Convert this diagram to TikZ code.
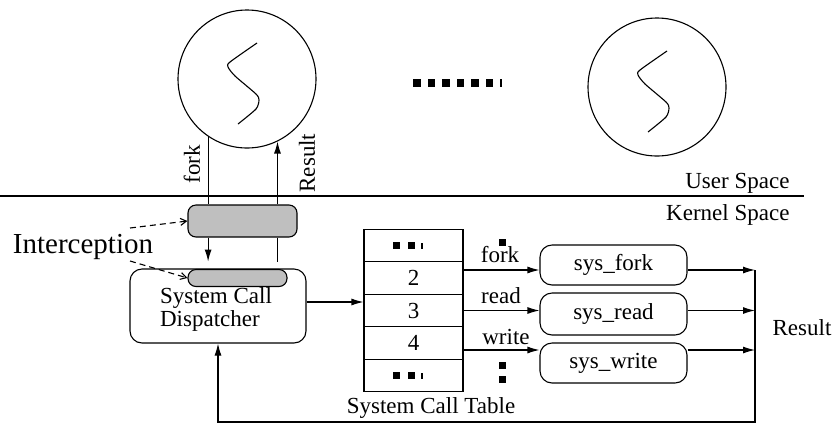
\documentclass[tikz,border=0pt]{standalone}
\usepackage{fontspec}
\setmainfont{Liberation Serif}
\usetikzlibrary{arrows.meta}
\tikzset{
    proc-circle/.style = {draw, circle, minimum size=69pt, inner sep=0pt},
    gray-box/.style = {draw, fill=black!25, rounded corners=4pt, inner sep=0pt},
    call-box/.style = {draw, fill=white, rounded corners=6pt, inner sep=0pt, font=\fontsize{11.5}{11.5}\selectfont},
    table-cell/.style = {draw, minimum width=49.5pt, minimum height=16.3pt, inner sep=0pt, font=\fontsize{11.5}{13.5}\selectfont},
    plain-label/.style = {inner sep=1pt, font=\fontsize{11.5}{13.5}\selectfont},
    arr/.style = {-{Latex[length=6pt,width=3.5pt]}},
    dash-arr/.style = {dashed, dash pattern=on 3pt off 2pt, -{Straight Barb[length=3pt,width=3.5pt]}},
    squiggle/.pic = {\draw plot[smooth, tension=0.4] coordinates {(10,-36) (-17,-17) (-19,-12) (-12,-3) (9,15) (12,21) (9,30) (-9,45)};},
    table-dots/.pic = {
        \fill (-20.5,-3.5) rectangle ++(7,7);
        \fill (-5.5,-3.5) rectangle ++(7,7);
        \fill (7.5,-3) rectangle ++(1.5,6);
    },
}

\begin{document}
\begin{tikzpicture}[x=0.5pt, y=-0.5pt, line width=0.55pt]
\useasboundingbox (0,0) rectangle (839,424);

% user processes
\node[proc-circle] (proc1) at (247,79) {};
\node[proc-circle] (proc2) at (657,87) {};
\pic at (proc1) {squiggle};
\pic at (proc2) {squiggle};
\foreach \k in {0,...,5}
    \fill ({413+14.5*\k},79) rectangle ++(7.5,7.5);
\fill (500,79) rectangle ++(1.5,7.5);

% boundary
\draw (0,196) -- (804,196);
\node[plain-label, anchor=east] (userlbl) at (792,183) {User Space};
\node[plain-label, anchor=east] (kernellbl) at (792,215) {Kernel Space};

% interception
\node[gray-box, minimum width=54.5pt, minimum height=16pt] (gray1) at (242.5,221) {};
\node[call-box, minimum width=88pt, minimum height=37pt, align=left] (dispatcher) at (218,306) {};
\node[plain-label, align=left, font=\fontsize{11.5}{11.5}\selectfont] (dispatchlbl) at (216,309) {System Call\\Dispatcher};
\node[gray-box, minimum width=49.5pt, minimum height=8.5pt] (gray2) at (237.5,278) {};
\node[inner sep=1pt, font=\fontsize{14.5}{16}\selectfont] (intercept) at (83,247) {Interception};
\coordinate (icpt-a) at (130,228);
\coordinate (icpt-b) at (130,261);
\draw[dash-arr] (icpt-a) -- (gray1.west);
\draw[dash-arr] (icpt-b) -- (gray2.west);

\draw (proc1.236) -- (proc1.236 |- gray1.north);
\draw[arr] (proc1.236 |- gray1.south) -- ++(0,24);
\draw[arr] (proc1.296 |- gray1.north) -- (proc1.296);
\draw (proc1.296 |- gray1.south) -- ++(0,24);
\node[plain-label, rotate=90] (forklbl) at (192,164) {fork};
\node[plain-label, rotate=90] (resultlbl) at (307,163) {Result};

% system call table
\foreach \i/\t in {1/,2/2,3/3,4/4,5/}
    \node[table-cell] (cell\i) at ({413.5},{213+32.5*\i}) {\t};
\pic at (cell1) {table-dots};
\pic at (cell5) {table-dots};
\node[plain-label] (tablelbl) at (431,408) {System Call Table};
\draw[arr] ([yshift=2pt]dispatcher.east) -- ([yshift=2pt]dispatcher.east -| cell3.west);

% handlers
\node[call-box, minimum width=73.5pt, minimum height=20pt] (sysfork) at (613.5,265) {sys\_fork};
\node[call-box, minimum width=73.5pt, minimum height=21pt] (sysread) at (613.5,314) {sys\_read};
\node[call-box, minimum width=73.5pt, minimum height=20pt] (syswrite) at (613.5,363) {sys\_write};
\coordinate (lfork) at ([yshift=4pt]cell2.east);
\coordinate (lread) at (cell3.east);
\coordinate (lwrite) at ([yshift=-3.5pt]cell4.east);
\draw[arr] (lfork) -- (lfork -| sysfork.west);
\draw[arr] (lread) -- (lread -| sysread.west);
\draw[arr] (lwrite) -- (lwrite -| syswrite.west);
\node[plain-label] (forkcall) at (500,255) {fork};
\node[plain-label] (readcall) at (501,296) {read};
\node[plain-label] (writecall) at (506,337) {write};
\fill (498.5,238.5) rectangle ++(7,7);
\fill (498.5,361.5) rectangle ++(7,7);
\fill (498.5,375.5) rectangle ++(7,7);

% results back to dispatcher
\coordinate (ret) at (755,422);
\draw[arr] (lfork -| sysfork.east) -- (lfork -| ret);
\draw[arr] (lread -| sysread.east) -- (lread -| ret);
\draw[arr] (lwrite -| syswrite.east) -- (lwrite -| ret);
\draw[arr] (lfork -| ret) -- (ret) -| (dispatcher.south);
\node[plain-label] (resultout) at (802,328) {Result};
\end{tikzpicture}
\end{document}
